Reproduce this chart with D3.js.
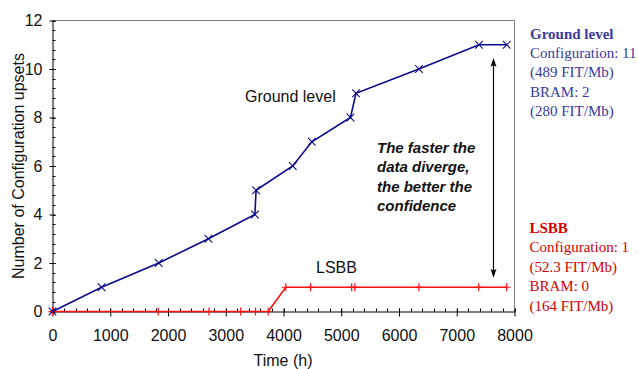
<!DOCTYPE html>
<html><head><meta charset="utf-8">
<script src="https://cdn.jsdelivr.net/npm/d3@7"></script>
<style>body{margin:0;background:#fff}svg{display:block}</style>
</head><body><svg id="c" width="639" height="369"></svg>
<script>
const groundX = [0, 850, 1840, 2700, 3505, 3525, 4160, 4490, 5160, 5255, 6345, 7385, 7865];
const groundY = [0, 1, 2, 3, 4, 5, 6, 7, 8, 9, 10, 11, 11];
const lsbbX = [0, 1830, 2710, 3260, 3515, 3735, 4040, 4470, 5180, 5235, 6345, 7380, 7865];
const lsbbY = [0, 0, 0, 0, 0, 0, 1, 1, 1, 1, 1, 1, 1];
const xTicks = [0, 1000, 2000, 3000, 4000, 5000, 6000, 7000, 8000];
const yTicks = [0, 2, 4, 6, 8, 10, 12];
const annotation = ["The faster the", "data diverge,", "the better the", "confidence"];
const groundInfo = ["Ground level", "Configuration: 11", "(489 FIT/Mb)", "BRAM: 2", "(280 FIT/Mb)"];
const lsbbInfo = ["LSBB", "Configuration: 1", "(52.3 FIT/Mb)", "BRAM: 0", "(164 FIT/Mb)"];
const arrowX = 7630, arrowTop = 10.45, arrowBottom = 1.39;

const svg = d3.select("#c");
const x = d3.scaleLinear().domain([0, 8000]).range([52.5, 514.5]);
const y = d3.scaleLinear().domain([0, 12]).range([311.5, 20.5]);
const font = "Arial, 'Liberation Sans', sans-serif";
const serif = "'Times New Roman', 'Liberation Serif', serif";

// frame top/right
svg.append("path").attr("d", `M${x(0)},${y(12)}H${x(8000)}V${y(0)}`)
  .attr("fill", "none").attr("stroke", "#7f7f7f").attr("stroke-width", 1);

// minor ticks
const yMinor = d3.range(0, 12.001, 0.4);
svg.append("g").selectAll("line").data(yMinor).join("line")
  .attr("x1", x(0)).attr("x2", x(0) + 3).attr("y1", d => Math.round(y(d)) + 0.5).attr("y2", d => Math.round(y(d)) + 0.5)
  .attr("stroke", "#000");
const xMinor = d3.range(0, 8001, 200);
svg.append("g").selectAll("line").data(xMinor).join("line")
  .attr("x1", d => Math.round(x(d)) + 0.5).attr("x2", d => Math.round(x(d)) + 0.5).attr("y1", y(0)).attr("y2", y(0) - 3)
  .attr("stroke", "#000");

// axes
const yAxis = svg.append("g").attr("transform", `translate(${x(0)},0)`)
  .call(d3.axisLeft(y).tickValues(yTicks).tickSize(4).tickSizeOuter(0).tickPadding(6).tickFormat(d3.format("d")));
const xAxis = svg.append("g").attr("transform", `translate(0,${y(0)})`)
  .call(d3.axisBottom(x).tickValues(xTicks).tickSize(5).tickSizeOuter(0).tickPadding(13).tickFormat(d3.format("d")));
[yAxis, xAxis].forEach(g => {
  g.select(".domain").attr("stroke", "#000");
  g.selectAll("text").attr("font-family", font).attr("font-size", 16).attr("fill", "#111");
});
yAxis.selectAll(".tick line").attr("x2", -3).attr("x1", 3);
xAxis.selectAll(".tick line").attr("y1", -3).attr("y2", 5);

// axis titles
svg.append("text").attr("x", 283).attr("y", 366).attr("text-anchor", "middle")
  .attr("font-family", font).attr("font-size", 16).attr("fill", "#111").text("Time (h)");
svg.append("text").attr("transform", `translate(24,166) rotate(-90)`).attr("text-anchor", "middle")
  .attr("font-family", font).attr("font-size", 16).attr("fill", "#111").text("Number of Configuration upsets");

// series
const line = d3.line().x(d => x(d[0])).y(d => y(d[1]));
const gData = groundX.map((v, i) => [v, groundY[i]]);
const lData = lsbbX.map((v, i) => [v, lsbbY[i]]);
svg.append("path").attr("d", line(lData)).attr("fill", "none").attr("stroke", "#ff1010").attr("stroke-width", 1.6);
svg.append("g").selectAll("path").data(lData).join("path")
  .attr("d", d => `M${x(d[0]) - 4},${y(d[1])}H${x(d[0]) + 4}M${x(d[0])},${y(d[1]) - 4}V${y(d[1]) + 4}`)
  .attr("stroke", "#ff1010").attr("stroke-width", 1.2).attr("fill", "none");
svg.append("path").attr("d", line(gData)).attr("fill", "none").attr("stroke", "#0a0a8c").attr("stroke-width", 1.6);
svg.append("g").selectAll("path").data(gData).join("path")
  .attr("d", d => { const cx = x(d[0]), cy = y(d[1]), r = 3.8; return `M${cx - r},${cy - r}L${cx + r},${cy + r}M${cx - r},${cy + r}L${cx + r},${cy - r}`; })
  .attr("stroke", "#0a0a8c").attr("stroke-width", 1.1).attr("fill", "none");

// labels
svg.append("text").attr("x", 245).attr("y", 101.5).attr("font-family", font).attr("font-size", 16).attr("fill", "#111").text("Ground level");
svg.append("text").attr("x", 316).attr("y", 272.5).attr("font-family", font).attr("font-size", 16).attr("fill", "#111").text("LSBB");

// annotation
svg.append("g").selectAll("text").data(annotation).join("text")
  .attr("x", 377).attr("y", (d, i) => 153 + i * 19.4)
  .attr("font-family", font).attr("font-size", 15).attr("font-weight", "bold").attr("font-style", "italic").attr("fill", "#111")
  .text(d => d);

// arrow
const ax = Math.round(x(arrowX)) + 0.5, at = y(arrowTop), ab = y(arrowBottom);
svg.append("path").attr("d", `M${ax},${at + 2}V${ab - 2}`).attr("stroke", "#000").attr("stroke-width", 1.2);
svg.append("path").attr("d", `M${ax},${at}L${ax - 3},${at + 9}L${ax},${at + 7}L${ax + 3},${at + 9}Z`).attr("fill", "#000");
svg.append("path").attr("d", `M${ax},${ab}L${ax - 3},${ab - 9}L${ax},${ab - 7}L${ax + 3},${ab - 9}Z`).attr("fill", "#000");

// side info
svg.append("g").selectAll("text").data(groundInfo).join("text")
  .attr("x", 530).attr("y", (d, i) => 39 + i * 19.2)
  .attr("font-family", serif).attr("font-size", 15).attr("font-weight", (d, i) => i === 0 ? "bold" : "normal")
  .attr("fill", "#3a3a9e").text(d => d);
svg.append("g").selectAll("text").data(lsbbInfo).join("text")
  .attr("x", 529.5).attr("y", (d, i) => 232.5 + i * 19.5)
  .attr("font-family", serif).attr("font-size", 15).attr("font-weight", (d, i) => i === 0 ? "bold" : "normal")
  .attr("fill", "#d40000").text(d => d);
</script></body></html>
